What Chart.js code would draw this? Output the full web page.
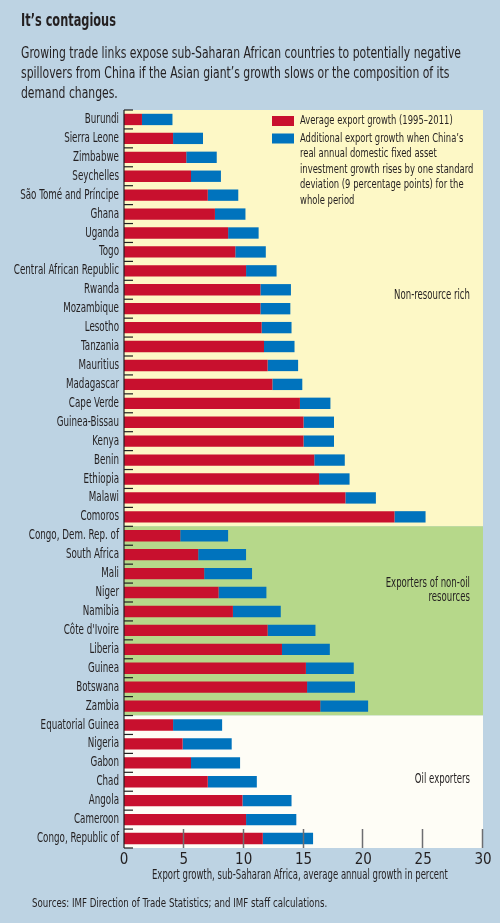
<!DOCTYPE html>
<html>
<head>
<meta charset="utf-8">
<script src="https://cdn.jsdelivr.net/npm/chart.js@4.4.1/dist/chart.umd.min.js"></script>
<style>
  body { margin: 0; background: #bdd3e3; }
  #wrap { position: relative; width: 500px; height: 923px; background: #bdd3e3; overflow: hidden; }
  .txt { position: absolute; font-family: "DejaVu Sans Condensed", sans-serif; color: #231f20;
         white-space: nowrap; transform-origin: 0 0; }
  #title { left: 21px; top: 9px; font-size: 18px; font-weight: bold; transform: scaleX(0.7); }
  #sub { left: 21px; top: 43px; font-size: 16px; line-height: 20px; transform: scaleX(0.752); }
  #xtitle { left: 152px; top: 866px; font-size: 14px; transform: scaleX(0.675); }
  #src { left: 32px; top: 895px; font-size: 12.5px; transform: scaleX(0.77); }
  canvas { position: absolute; left: 0; top: 0; }
</style>
</head>
<body>
<div id="wrap">
  <canvas id="chart" width="500" height="923"></canvas>
  <div class="txt" id="title">It’s contagious</div>
  <div class="txt" id="sub">Growing trade links expose sub-Saharan African countries to potentially negative<br>spillovers from China if the Asian giant’s growth slows or the composition of its<br>demand changes.</div>
  <div class="txt" id="xtitle">Export growth, sub-Saharan Africa, average annual growth in percent</div>
  <div class="txt" id="src">Sources: IMF Direction of Trade Statistics; and IMF staff calculations.</div>
</div>
<script>
const countries = [
  "Burundi", "Sierra Leone", "Zimbabwe", "Seychelles", "São Tomé and Príncipe",
  "Ghana", "Uganda", "Togo", "Central African Republic", "Rwanda",
  "Mozambique", "Lesotho", "Tanzania", "Mauritius", "Madagascar",
  "Cape Verde", "Guinea-Bissau", "Kenya", "Benin", "Ethiopia",
  "Malawi", "Comoros",
  "Congo, Dem. Rep. of", "South Africa", "Mali", "Niger", "Namibia",
  "Côte d'Ivoire", "Liberia", "Guinea", "Botswana", "Zambia",
  "Equatorial Guinea", "Nigeria", "Gabon", "Chad", "Angola", "Cameroon",
  "Congo, Republic of"
];

// average export growth 1995-2011
const avgGrowth = [
  1.5, 4.1, 5.2, 5.6, 7.0, 7.6, 8.7, 9.3, 10.2, 11.4,
  11.4, 11.5, 11.7, 12.0, 12.4, 14.7, 15.0, 15.0, 15.9, 16.3,
  18.5, 22.6,
  4.7, 6.2, 6.7, 7.9, 9.1, 12.0, 13.2, 15.2, 15.3, 16.4,
  4.1, 4.9, 5.6, 7.0, 9.9, 10.2, 11.6
];

// additional growth from a one standard deviation rise in China's investment
const addGrowth = [
  2.55, 2.5, 2.55, 2.5, 2.55, 2.55, 2.55, 2.55, 2.55, 2.55,
  2.5, 2.5, 2.55, 2.55, 2.5, 2.55, 2.55, 2.55, 2.55, 2.55,
  2.55, 2.6,
  4.0, 4.0, 4.0, 4.0, 4.0, 4.0, 4.0, 4.0, 4.0, 4.0,
  4.1, 4.1, 4.1, 4.1, 4.1, 4.2, 4.2
];

const xTicks = [0, 5, 10, 15, 20, 25, 30];

// groups: first index, last index, colour, label lines
const groups = [
  { from: 0, to: 21, color: "#fdf8c6", label: ["Non-resource rich"] },
  { from: 22, to: 31, color: "#b6d88a", label: ["Exporters of non-oil", "resources"] },
  { from: 32, to: 38, color: "#fefdf6", label: ["Oil exporters"] }
];

const legendItems = [
  { color: "#c8102e", lines: ["Average export growth (1995–2011)"] },
  { color: "#0073bd", lines: [
    "Additional export growth when China’s",
    "real annual domestic fixed asset",
    "investment growth rises by one standard",
    "deviation (9 percentage points) for the",
    "whole period"
  ] }
];

const FONT = '"DejaVu Sans Condensed", sans-serif';

// draw text squeezed horizontally, since no condensed face is installed
function squeezedText(ctx, text, x, y, align, sx) {
  ctx.save();
  ctx.translate(x, y);
  ctx.scale(sx, 1);
  ctx.textAlign = align;
  ctx.textBaseline = "middle";
  ctx.fillText(text, 0, 0);
  ctx.restore();
}

const decorPlugin = {
  id: "decor",
  beforeDatasetsDraw(chart) {
    const ctx = chart.ctx;
    const area = chart.chartArea;
    const y = chart.scales.y;
    ctx.save();
    groups.forEach((g) => {
      const top = y.getPixelForValue(g.from - 0.5);
      const bottom = y.getPixelForValue(g.to + 0.5);
      ctx.fillStyle = g.color;
      ctx.fillRect(area.left, top, area.right - area.left, bottom - top);
    });

    ctx.fillStyle = "#231f20";
    // country labels
    ctx.font = "13.5px " + FONT;
    countries.forEach((c, i) => {
      squeezedText(ctx, c, area.left - 5, y.getPixelForValue(i), "right", 0.72);
    });

    // group labels
    ctx.font = "14px " + FONT;
    const labelPos = [9.3, 24.9, 34.85];
    groups.forEach((g, i) => {
      const yc = y.getPixelForValue(labelPos[i]);
      g.label.forEach((line, j) => {
        squeezedText(ctx, line, area.right - 13, yc + j * 14 - (g.label.length - 1) * 7, "right", 0.68);
      });
    });

    // legend
    ctx.font = "13px " + FONT;
    let ly = area.top + 6;
    legendItems.forEach((item) => {
      ctx.fillStyle = item.color;
      ctx.fillRect(272, ly, 22, 10);
      ctx.fillStyle = "#231f20";
      item.lines.forEach((line, j) => {
        squeezedText(ctx, line, 300, ly + 5 + j * 15.5, "left", 0.72);
      });
      ly += item.lines.length * 15.5 + 2;
    });
    ctx.restore();
  },
  afterDatasetsDraw(chart) {
    const ctx = chart.ctx;
    const area = chart.chartArea;
    const x = chart.scales.x;
    const y = chart.scales.y;
    ctx.save();
    // x tick marks rising from the bottom
    ctx.strokeStyle = "#6d6e71";
    ctx.lineWidth = 1.5;
    xTicks.slice(1).forEach((v) => {
      const px = Math.round(x.getPixelForValue(v)) - 0.5;
      ctx.beginPath();
      ctx.moveTo(px, area.bottom);
      ctx.lineTo(px, area.bottom - 19);
      ctx.stroke();
    });
    // y axis line and category separators
    ctx.strokeStyle = "#231f20";
    ctx.lineWidth = 1.2;
    ctx.beginPath();
    ctx.moveTo(area.left, area.top);
    ctx.lineTo(area.left, area.bottom);
    ctx.stroke();
    for (let i = 0; i <= countries.length; i++) {
      const py = y.getPixelForValue(i - 0.5);
      ctx.beginPath();
      ctx.moveTo(area.left, py);
      ctx.lineTo(area.left + 9, py);
      ctx.stroke();
    }
    ctx.restore();
  }
};

new Chart(document.getElementById("chart"), {
  type: "bar",
  data: {
    labels: countries,
    datasets: [
      {
        label: "Average export growth (1995–2011)",
        data: avgGrowth,
        backgroundColor: "#c8102e",
        barPercentage: 0.6,
        categoryPercentage: 1
      },
      {
        label: "Additional export growth",
        data: addGrowth,
        backgroundColor: "#0073bd",
        barPercentage: 0.6,
        categoryPercentage: 1
      }
    ]
  },
  options: {
    indexAxis: "y",
    responsive: false,
    animation: false,
    layout: { padding: { left: 0, right: 17, top: 110, bottom: 0 } },
    plugins: { legend: { display: false }, tooltip: { enabled: false } },
    scales: {
      x: {
        stacked: true,
        min: 0,
        max: 30,
        grid: { display: false },
        border: { display: false },
        ticks: {
          stepSize: 5,
          color: "#231f20",
          font: { family: FONT, size: 15 },
          padding: -5
        },
        afterFit(scale) { scale.height = 75; }
      },
      y: {
        stacked: true,
        grid: { display: false },
        border: { display: false },
        ticks: { display: false },
        afterFit(scale) { scale.width = 124; }
      }
    }
  },
  plugins: [decorPlugin]
});
</script>
</body>
</html>
